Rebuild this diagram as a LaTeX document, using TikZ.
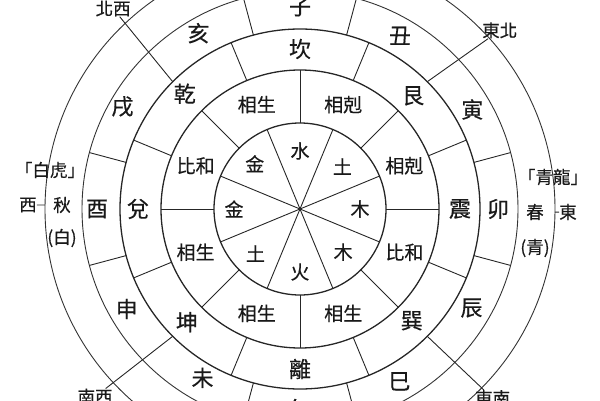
\documentclass[tikz,border=0pt]{standalone}
\usepackage{fontspec}
\usepackage{tikz}
\newfontfamily\cjk[FakeBold=0.4]{Noto Sans CJK TC}

\begin{document}
\begin{tikzpicture}[x=1pt, y=1pt]

    \def\ra{86}
    \def\rb{139}
    \def\rc{180}
    \def\rd{218}
    \def\re{255}

    % Line styles, and one label style per ring
    \tikzset{
        bold ring/.style={draw=black!85, line width=1.3pt},
        thin ring/.style={draw=black!80, line width=0.9pt},
        spoke/.style={draw=black!85, line width=0.9pt},
        txt/.style={inner sep=0pt, text=black!90},
        element/.style={txt, font=\cjk\fontsize{19}{19}\selectfont},
        relation/.style={txt, font=\cjk\fontsize{19}{19}\selectfont},
        trigram/.style={txt, font=\cjk\fontsize{22}{22}\selectfont},
        branch/.style={txt, font=\cjk\fontsize{22}{22}\selectfont},
        season/.style={txt, font=\cjk\fontsize{17.5}{17.5}\selectfont},
        compass/.style={txt, font=\cjk\fontsize{17.5}{17.5}\selectfont}
    }

    \useasboundingbox (0,0) rectangle (600,400);

    % Scope used to put the origin at the centre of the wheel
    \begin{scope}[shift={(300,191)}]

        \draw[bold ring] (0,0) circle (\ra);
        \draw[bold ring] (0,0) circle (\rb);
        \draw[bold ring] (0,0) circle (\rc);
        \draw[thin ring] (0,0) circle (\rd);
        \draw[thin ring] (0,0) circle (\re);

        \foreach \a in {22.5,67.5,...,337.5}
            \draw[spoke] (0,0) -- (\a:\ra);
        \foreach \a in {0,45,...,315}
            \draw[spoke] (\a:\ra) -- (\a:\rb);
        \foreach \a in {22.5,67.5,...,337.5}
            \draw[spoke] (\a:\rb) -- (\a:\rc);
        \foreach \a in {15,75,105,165,195,255,285,345}
            \draw[spoke] (\a:\rc) -- (\a:\rd);

        % five elements
        \node[element] (shui) at (90:58) {水};
        \node[element] (tu1) at (45:60) {土};
        \node[element] (mu1) at (0:60) {木};
        \node[element] (mu2) at (-45:61) {木};
        \node[element] (huo) at (-90:63) {火};
        \node[element] (tu2) at (-135:63) {土};
        \node[element] (jin1) at (180:66) {金};
        \node[element] (jin2) at (135:64) {金};

        % relations
        \node[relation] (sheng1) at (112.5:113) {相生};
        \node[relation] (ke1) at (67.5:113) {相剋};
        \node[relation] (ke2) at (22.5:113) {相剋};
        \node[relation] (he1) at (-22.5:113) {比和};
        \node[relation] (sheng2) at (-67.5:113) {相生};
        \node[relation] (sheng3) at (-112.5:113) {相生};
        \node[relation] (sheng4) at (-157.5:113) {相生};
        \node[relation] (he2) at (157.5:113) {比和};

        % trigrams
        \node[trigram] (kan) at (90:160) {坎};
        \node[trigram] (gen) at (45:160) {艮};
        \node[trigram] (zhen) at (0:160) {震};
        \node[trigram] (xun) at (-45:158) {巽};
        \node[trigram] (li) at (-90:160) {離};
        \node[trigram] (kun) at (-135:160) {坤};
        \node[trigram] (dui) at (180:162) {兌};
        \node[trigram] (qian) at (135:163) {乾};

        % branches
        \node[branch] (zi) at (90:202) {子};
        \node[branch] (chou) at (60:200) {丑};
        \node[branch] (yin) at (30:199) {寅};
        \node[branch] (mao) at (0:198) {卯};
        \node[branch] (chen) at (-30:198) {辰};
        \node[branch] (si) at (-60:199) {巳};
        \node[branch] (wu) at (-90:200) {午};
        \node[branch] (wei) at (-120:195) {未};
        \node[branch] (shen) at (-150:200) {申};
        \node[branch] (you) at (180:203) {酉};
        \node[branch] (xu) at (150:205) {戌};
        \node[branch] (hai) at (120:203) {亥};

        % seasons
        \node[season] (chun) at (235,-3) {春};
        \node[season] (qinglong) at (253,32) {「青龍」};
        \node[season] (qing) at (235,-39) {(青)};
        \node[season] (qiu) at (-238,4) {秋};
        \node[season] (baihu) at (-250,39) {「白虎」};
        \node[season] (bai) at (-238,-29) {(白)};

        % compass points
        \node[compass] (dong) at (268,-3) {東};
        \node[compass] (xi) at (-272,4) {西};
        \node[compass] (dongbei) at (41.8:268) {東北};
        \node[compass] (beixi) at (133:274) {北西};
        \node[compass] (nanxi) at (222.5:278) {南西};
        \node[compass] (dongnan) at (-44.5:270) {東南};

        \coordinate (e) at (-0.7:\re);
        \coordinate (w) at (179.1:\re);
        \coordinate (ne) at (45:\rc);
        \coordinate (nw) at (135:\rc);
        \coordinate (sw) at (225:\rc);
        \coordinate (se) at (315:\rc);
    \end{scope}

    \begin{scope}[spoke]
        \draw (e) -- (dong);
        \draw (w) -- (xi);
        \draw (ne) -- (dongbei);
        \draw (nw) -- (beixi);
        \draw (sw) -- (nanxi);
        \draw (se) -- (dongnan);
    \end{scope}

\end{tikzpicture}
\end{document}
